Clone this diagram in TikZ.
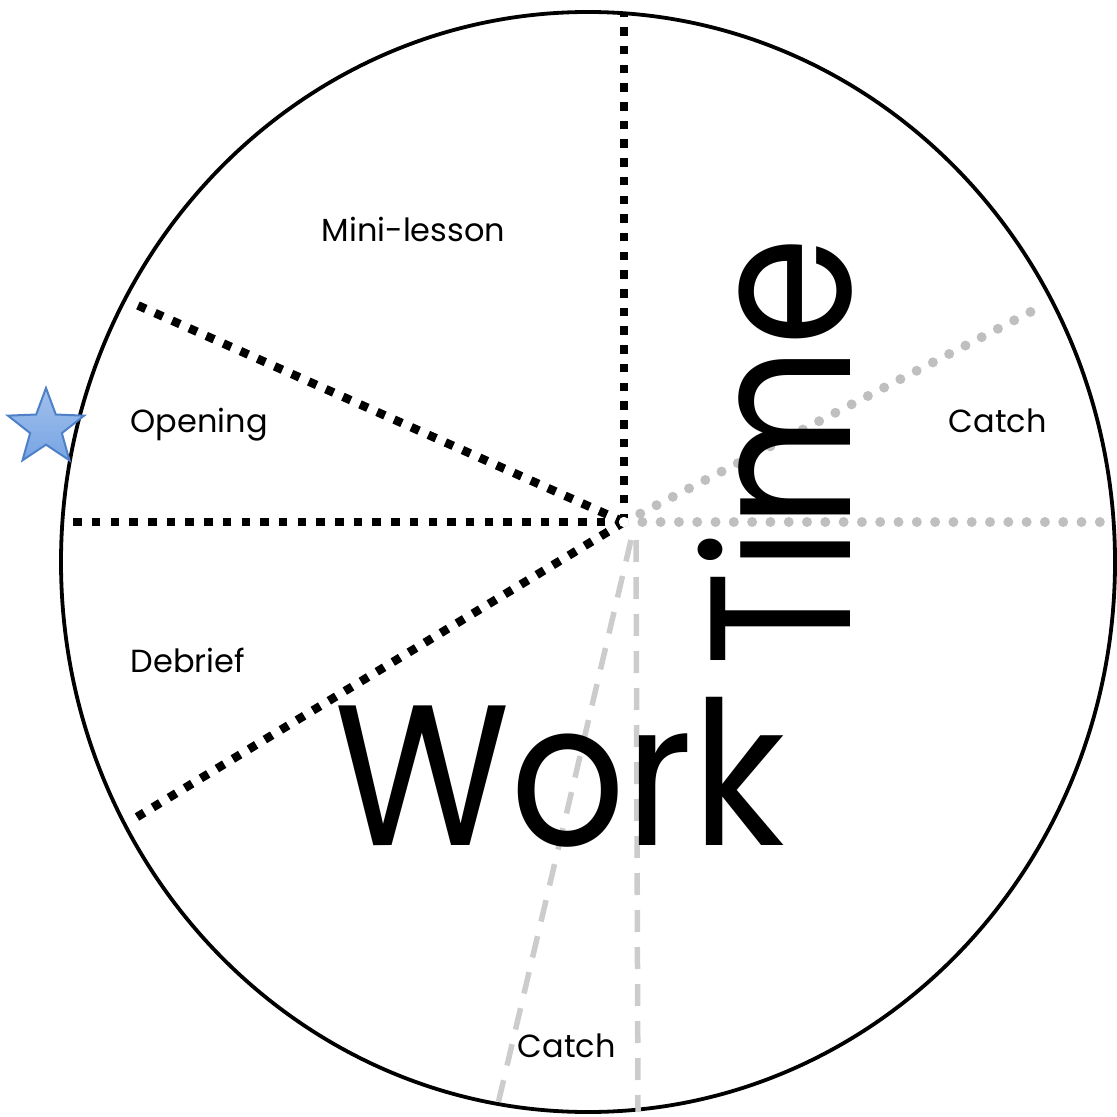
\documentclass[tikz,border=0pt]{standalone}
\usepackage{fontspec}
\setmainfont{Poppins}
\usetikzlibrary{shapes.geometric}
\definecolor{starfill}{RGB}{120,165,228}
\definecolor{starline}{RGB}{78,128,200}

\begin{document}
\begin{tikzpicture}[
  x=0.1mm, y=-0.1mm,
  rim/.style={draw=black, line width=0.38mm},
  planline/.style={draw=black, line width=0.85mm, dash pattern=on 0.85mm off 1.02mm},
  planshadow/.style={planline, draw=black!18, shift={(2,3)}},
  catchdots/.style={draw=black!25, line width=1mm, line cap=round,
                    dash pattern=on 0pt off 1.83mm},
  catchdash/.style={draw=black!20, line width=0.55mm, dash pattern=on 2.2mm off 1.5mm},
  label/.style={font=\fontsize{9.1}{11}\selectfont, anchor=base west, inner sep=0pt},
  biglabel/.style={font=\fontsize{57}{57}\selectfont, inner sep=0pt},
]
  \useasboundingbox (0,0) rectangle (1117,1117);

  % Clock face
  \draw[rim] (588,562) ellipse [x radius=527, y radius=550];

  % Hub and rim points
  \coordinate (hub) at (624,522);
  \coordinate (top) at (624,13);
  \coordinate (west) at (62,522);
  \coordinate (nw) at (137,305);
  \coordinate (sw) at (137,817);
  \coordinate (east) at (1113,522);
  \coordinate (ne) at (1040,307);
  \coordinate (hubs) at (636,540);
  \coordinate (hubsw) at (631,540);
  \coordinate (south) at (638,1112);
  \coordinate (ssw) at (497,1108);

  % Planned parts
  \foreach \p in {top,west,nw,sw}
    \draw[planshadow] (hub) -- (\p);
  \foreach \p in {top,west,nw,sw}
    \draw[planline] (hub) -- (\p);

  % Catch parts
  \draw[catchdots] (hub) -- (east);
  \draw[catchdots] (hub) -- (ne);
  \draw[catchdash] (hubs) -- (south);
  \draw[catchdash] (hubsw) -- (ssw);
  \fill[white] (hub) circle [radius=5];

  % Labels
  \node[label] (mini) at (321,242) {Mini-lesson};
  \node[label] (open) at (130,433) {Opening};
  \node[label] (debrief) at (130,672) {Debrief};
  \node[label] (catchr) at (948,433) {Catch};
  \node[label] (catchb) at (517,1057) {Catch};
  \node[biglabel, anchor=base] (work) at (560,845) {\scalebox{0.9}[1]{Work}};
  \node[biglabel, anchor=base, rotate=90] (time) at (850,452) {\scalebox{0.88}[1]{Time}};

  % Star
  \node[star, star points=5, star point ratio=2.4, minimum size=8mm, inner sep=0pt,
        top color=starfill!70!white, bottom color=starfill, draw=starline,
        line width=0.2mm] (mark) at (46,428) {};
\end{tikzpicture}
\end{document}
